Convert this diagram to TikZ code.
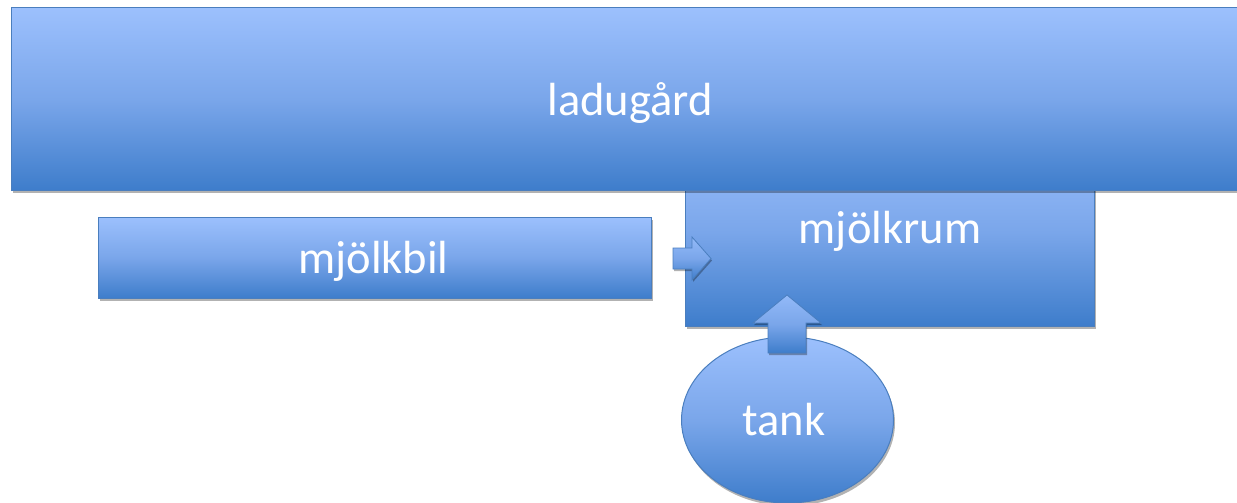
\documentclass[tikz,border=0pt]{standalone}
\usepackage{fontspec}
\setmainfont{Carlito}
\usetikzlibrary{shadows,shapes.geometric}
\definecolor{topblue}{HTML}{9CC0FD}
\definecolor{midblue}{HTML}{7AA6EA}
\definecolor{botblue}{HTML}{3E7DCB}
\definecolor{edgeblue}{HTML}{4A7EBE}
\tikzset{
  blockbox/.style={draw=edgeblue, line width=1pt, top color=topblue, bottom color=botblue, middle color=midblue,
    drop shadow={shadow xshift=1.5pt, shadow yshift=-3pt, opacity=.3, fill=black}},
  boxtext/.style={text=white, anchor=base, inner sep=0pt, font=\fontsize{46.5}{56}\selectfont},
  blockarrow/.style={draw=edgeblue, line width=0.8pt, top color=topblue!90!botblue, bottom color=botblue, middle color=midblue,
    drop shadow={shadow xshift=1pt, shadow yshift=-2pt, opacity=.3, fill=black}}
}
\begin{document}
\begin{tikzpicture}[x=1pt,y=-1pt]
\useasboundingbox (0,0) rectangle (1237,503);
\clip (0,0) rectangle (1237,503);
% mjölkrum (behind ladugård)
\node[blockbox, rectangle, minimum width=409pt, minimum height=188pt, inner sep=0pt] (mjolkrum) at (889.5,232) {};
% mjölkbil
\node[blockbox, rectangle, minimum width=553pt, minimum height=81pt, inner sep=0pt] (mjolkbil) at (374.5,257.5) {};
% ladugård
\node[blockbox, rectangle, minimum width=1242pt, minimum height=182pt, inner sep=0pt] (ladugard) at (632,99) {};
% tank
\node[blockbox, ellipse, minimum width=212pt, minimum height=166pt, inner sep=0pt] (tank) at (787.5,420) {};
% texts
\node[boxtext] (tladugard) at (630,115) {ladugård};
\node[boxtext] (tmjolkrum) at (890,243) {mjölkrum};
\node[boxtext] (tmjolkbil) at (373.5,273) {mjölkbil};
\node[boxtext] (ttank) at (784,435) {tank};
% right block arrow mjölkbil -> mjölkrum
\path[blockarrow] (673,248) -- (692,248) -- (692,237) -- (711,258.5) -- (692,280) -- (692,269) -- (673,269) -- cycle;
% up block arrow tank -> mjölkrum
\path[blockarrow] (768,353) -- (768,323) -- (753,323) -- (787,295) -- (821,323) -- (806,323) -- (806,353) -- cycle;
\end{tikzpicture}
\end{document}
